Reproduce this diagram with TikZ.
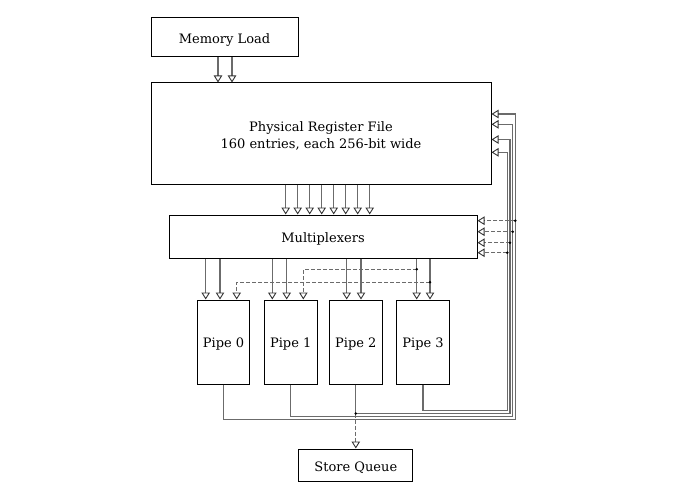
\documentclass[tikz,border=0pt]{standalone}
\usepackage{fontspec}
\setmainfont{DejaVu Serif}
\usetikzlibrary{arrows.meta}
\begin{document}
\begin{tikzpicture}[x=1pt,y=-1pt,
  box/.style={draw=black, line width=1pt, inner sep=0pt},
  txt/.style={align=center, font=\fontsize{13}{17}\selectfont, yshift=-2.5pt},
  wire/.style={draw=black!58, line width=1.3pt},
  arr/.style={wire, -{Triangle[open, length=7pt, width=8.5pt, color=black!80, line width=0.9pt]}},
  darr/.style={arr, dash pattern=on 4pt off 2pt},
  dot/.style={fill=black}]
\useasboundingbox (0,0) rectangle (700,500);
% boxes
\node[box, minimum width=147, minimum height=39, label={[txt]center:Memory Load}] (mem) at (224.5,37.5) {};
\node[box, minimum width=340, minimum height=101, label={[txt]center:Physical Register File\\160 entries, each 256-bit wide}] (prf) at (321,133.5) {};
\node[box, minimum width=308, minimum height=43, label={[txt]center:Multiplexers}] (mux) at (323,236.5) {};
\node[box, minimum width=52.7, minimum height=84, label={[txt]center:Pipe 0}] (p0) at (223.6,342) {};
\node[box, minimum width=53.3, minimum height=84, label={[txt]center:Pipe 1}] (p1) at (290.7,342) {};
\node[box, minimum width=53, minimum height=84, label={[txt]center:Pipe 2}] (p2) at (355.8,342) {};
\node[box, minimum width=52.6, minimum height=84, label={[txt]center:Pipe 3}] (p3) at (423,342) {};
\node[box, minimum width=114, minimum height=32, label={[txt]center:Store Queue}] (sq) at (355.8,465) {};
% memory load -> PRF
\foreach \x in {218,232}
  \draw[arr] (\x,0 |- mem.south) -- (\x,0 |- prf.north);
% PRF -> mux
\foreach \x in {285.7,297.7,309.7,321.7,333.7,345.7,357.7,369.7}
  \draw[arr] (\x,0 |- prf.south) -- (\x,0 |- mux.north);
% mux -> pipes
\foreach \x in {205.7,220} \draw[arr] (\x,0 |- mux.south) -- (\x,0 |- p0.north);
\foreach \x in {272.3,286.7} \draw[arr] (\x,0 |- mux.south) -- (\x,0 |- p1.north);
\foreach \x in {346.7,361} \draw[arr] (\x,0 |- mux.south) -- (\x,0 |- p2.north);
\foreach \x in {416.7,430} \draw[arr] (\x,0 |- mux.south) -- (\x,0 |- p3.north);
% forwarding from pipe 3 inputs
\coordinate (f1) at (416.7,269.3);
\coordinate (f0) at (430,282.3);
\draw[darr] (f1) -- (303.3,269.3) -- (303.3,0 |- p1.north);
\draw[darr] (f0) -- (236.7,282.3) -- (236.7,0 |- p0.north);
\fill[dot] (f1) circle (1.4);
\fill[dot] (f0) circle (1.4);
% write-back lines
\coordinate (c0) at (515.3,419.3);
\coordinate (c1) at (512.7,416.5);
\coordinate (c2) at (510,413.5);
\coordinate (c3) at (507.3,410.7);
\draw[arr] (p0.south) |- (c0) |- (prf.east |- 0,114);
\draw[arr] (p1.south) |- (c1) |- (prf.east |- 0,124.3);
\draw[arr] (p2.south) |- (c2) |- (prf.east |- 0,139.5);
\draw[arr] (p3.south) |- (c3) |- (prf.east |- 0,152.3);
% bypass to multiplexers
\coordinate (b0) at (515.3,220.7);
\coordinate (b1) at (512.7,231.7);
\coordinate (b2) at (510,242.7);
\coordinate (b3) at (507.3,252.7);
\foreach \b in {b0,b1,b2,b3} {
  \draw[darr] (\b) -- (mux.east |- \b);
  \fill[dot] (\b) circle (1.4);
}
% store queue
\coordinate (s) at (p2.south |- c2);
\draw[darr] (s) -- (sq.north);
\fill[dot] (s) circle (1.4);
\end{tikzpicture}
\end{document}
